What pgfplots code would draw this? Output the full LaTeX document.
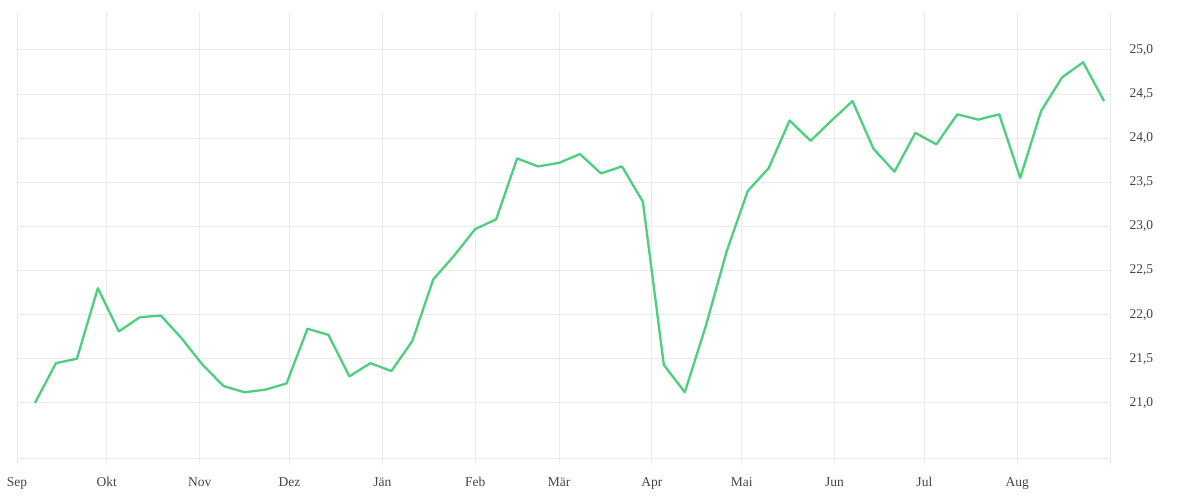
\documentclass[border=0pt]{standalone}
\usepackage{pgfplots}
\pgfplotsset{compat=1.18}
\usepackage{fontspec}
\setmainfont{Liberation Serif}
\definecolor{linegreen}{HTML}{4CD07D}
\definecolor{gridgray}{HTML}{EBEBEB}
\definecolor{textgray}{HTML}{444444}

\pgfplotstableread{
day value
6 21.00
13 21.45
20 21.50
27 22.30
34 21.81
41 21.97
48 21.99
55 21.73
62 21.43
69 21.19
76 21.12
83 21.15
90 21.22
97 21.84
104 21.77
111 21.30
118 21.45
125 21.36
132 21.70
139 22.40
146 22.67
153 22.97
160 23.08
167 23.77
174 23.68
181 23.72
188 23.82
195 23.60
202 23.68
209 23.28
216 21.43
223 21.12
230 21.87
237 22.72
244 23.40
251 23.66
258 24.20
265 23.97
272 24.20
279 24.42
286 23.88
293 23.62
300 24.06
307 23.93
314 24.27
321 24.21
328 24.27
335 23.55
342 24.31
349 24.69
356 24.86
363 24.42
}\temps

\begin{document}
\begin{tikzpicture}
\useasboundingbox (0,0) rectangle (1200bp,500bp);
\begin{axis}[
    at={(17bp,42bp)}, anchor=south west,
    scale only axis,
    width=1093bp, height=446bp,
    xmin=0, xmax=365,
    ymin=20.375, ymax=25.43,
    axis x line=bottom,
    axis y line=right,
    x axis line style={gridgray, line width=1bp, -},
    y axis line style={draw=none},
    xtick={0,30,61,91,122,153,181,212,242,273,303,334,365},
    xticklabels={Sep,Okt,Nov,Dez,Jän,Feb,Mär,Apr,Mai,Jun,Jul,Aug,{}},
    ytick={21,21.5,...,25},
    xmajorgrids, ymajorgrids,
    grid style={gridgray, line width=1bp},
    tick align=outside,
    major tick length=7bp,
    xtick style={gridgray, line width=1bp},
    ytick style={draw=none},
    ticklabel style={font=\fontsize{13.5bp}{16bp}\selectfont, text=textgray},
    xticklabel style={yshift=-9bp},
    yticklabel style={xshift=9bp},
    yticklabel style={/pgf/number format/.cd, fixed, fixed zerofill, precision=1, use comma, assume math mode=true},
    clip=false,
]
\addplot[linegreen, line width=2.3bp, line join=round] table[x=day, y=value] {\temps};
\end{axis}
\end{tikzpicture}
\end{document}
